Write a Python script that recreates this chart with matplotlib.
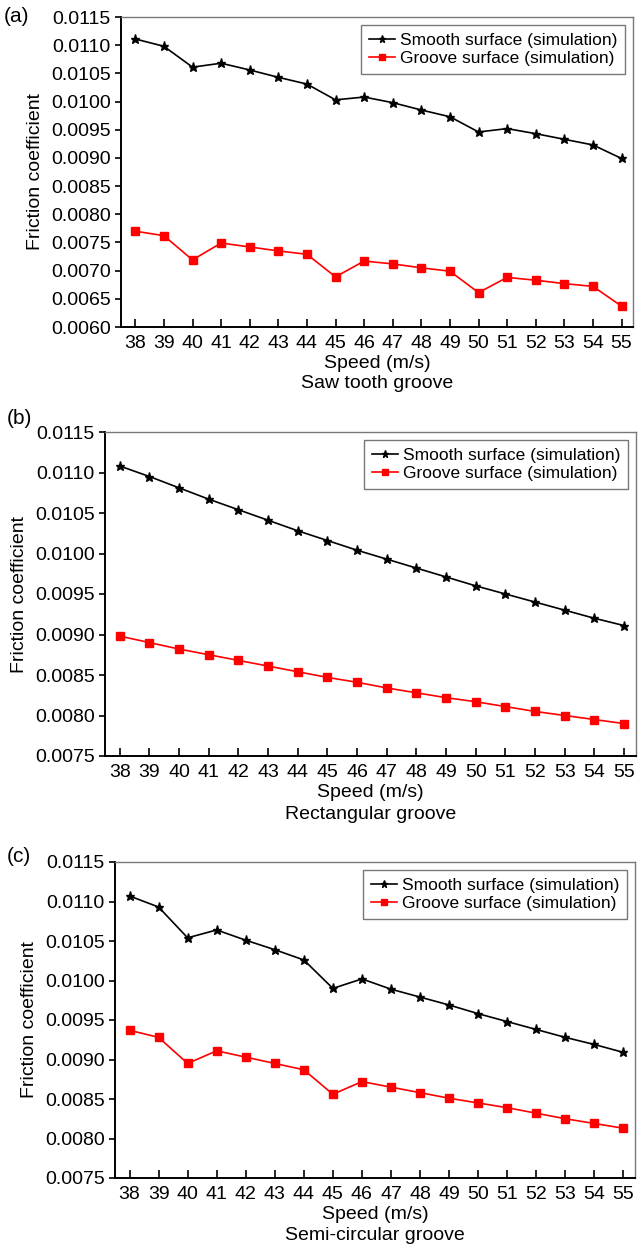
import numpy as np
import matplotlib
matplotlib.use("Agg")
from matplotlib import pyplot as plt
from matplotlib.ticker import FormatStrFormatter, MultipleLocator

plt.rcParams['font.family'] = ['Liberation Sans', 'DejaVu Sans']

speed = np.arange(38, 56)

# (a) saw tooth groove
saw_smooth = [0.01111, 0.01098, 0.01061, 0.01068, 0.01056, 0.01043, 0.01031, 0.01003, 0.01008,
              0.00998, 0.00985, 0.00973, 0.00946, 0.00952, 0.00943, 0.00933, 0.00923, 0.00899]
saw_groove = [0.00770, 0.00762, 0.00719, 0.00749, 0.00742, 0.00735, 0.00729, 0.00689, 0.00717,
              0.00712, 0.00705, 0.00699, 0.00661, 0.00688, 0.00683, 0.00677, 0.00672, 0.00637]

# (b) rectangular groove
rect_smooth = [0.01108, 0.01095, 0.01081, 0.01067, 0.01054, 0.01041, 0.01028, 0.01016, 0.01004,
               0.00993, 0.00982, 0.00971, 0.00960, 0.00950, 0.00940, 0.00930, 0.00920, 0.00911]
rect_groove = [0.00898, 0.00890, 0.00882, 0.00875, 0.00868, 0.00861, 0.00854, 0.00847, 0.00841,
               0.00834, 0.00828, 0.00822, 0.00817, 0.00811, 0.00805, 0.00800, 0.00795, 0.00790]

# (c) semi-circular groove
semi_smooth = [0.01107, 0.01093, 0.01054, 0.01064, 0.01051, 0.01039, 0.01026, 0.00990, 0.01002,
               0.00989, 0.00979, 0.00969, 0.00958, 0.00948, 0.00938, 0.00928, 0.00919, 0.00909]
semi_groove = [0.00937, 0.00928, 0.00895, 0.00911, 0.00903, 0.00895, 0.00887, 0.00856, 0.00872,
               0.00865, 0.00858, 0.00851, 0.00845, 0.00839, 0.00832, 0.00825, 0.00819, 0.00813]

W, H = 640, 1259
fig = plt.figure(figsize=(W / 100, H / 100), dpi=100)

def px_axes(left, right, top, bottom):
    return fig.add_axes([left / W, 1 - bottom / H, (right - left) / W, (bottom - top) / H])

panels = [
    ("(a)", "Saw tooth groove", saw_smooth, saw_groove, (0.0060, 0.0115), (121, 633, 17, 327), (4, 17)),
    ("(b)", "Rectangular groove", rect_smooth, rect_groove, (0.0075, 0.0115), (105, 636, 432, 756), (7, 418)),
    ("(c)", "Semi-circular groove", semi_smooth, semi_groove, (0.0075, 0.0115), (115, 635, 862, 1178), (7, 856)),
]

for tag, name, smooth, groove, ylim, box, tagpos in panels:
    ax = px_axes(*box)
    ax.plot(speed, smooth, color='black', lw=1.2, marker='*', ms=6.5,
            label='Smooth surface (simulation)')
    ax.plot(speed, groove, color='#ff0000', lw=1.2, marker='s', ms=5.5,
            label='Groove surface (simulation)')
    ax.set_xlim(37.5, 55.4)
    ax.set_ylim(*ylim)
    ax.set_xticks(speed)
    ax.yaxis.set_major_locator(MultipleLocator(0.0005))
    ax.yaxis.set_major_formatter(FormatStrFormatter('%.4f'))
    ax.tick_params(axis='x', direction='in', length=6, width=1.2, labelsize=14, pad=6)
    ax.tick_params(axis='y', direction='out', length=4, width=1.2, labelsize=14)
    for s in ('left', 'bottom'):
        ax.spines[s].set_linewidth(1.4)
    for s in ('top', 'right'):
        ax.spines[s].set_color('#777777')
        ax.spines[s].set_linewidth(1.0)
    ax.set_ylabel('Friction coefficient', fontsize=14, labelpad=5)
    ax.set_xlabel('Speed (m/s)', fontsize=14, labelpad=2)
    ax.text(0.5, -0.155, name, transform=ax.transAxes, ha='center', va='top', fontsize=14)
    leg = ax.legend(loc='upper right', fontsize=12.5, frameon=True, fancybox=False,
                    borderpad=0.45, handlelength=1.5, handletextpad=0.3,
                    labelspacing=0.2, borderaxespad=0.45, markerscale=0.8)
    leg.get_frame().set_edgecolor('#555555')
    leg.get_frame().set_linewidth(1.0)
    fig.text(tagpos[0] / W, 1 - tagpos[1] / H, tag, fontsize=15, ha='left', va='center')

fig.savefig('out.png', dpi=100)
